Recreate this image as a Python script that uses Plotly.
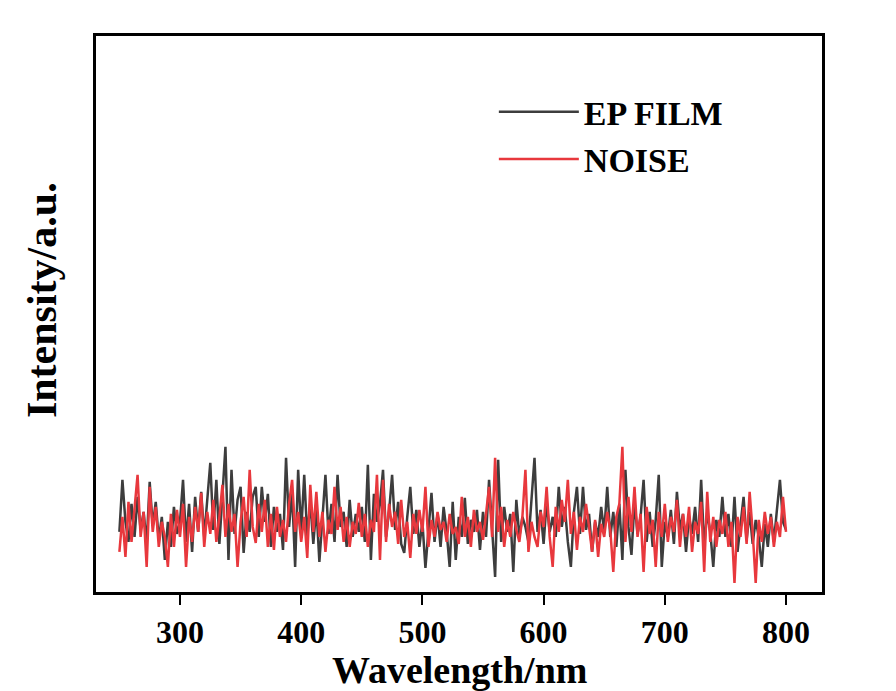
import numpy as np
import plotly.graph_objects as go

# Wavelength grid (nm), 2.5 nm step
wavelength = np.arange(250, 800.01, 2.5)

# EP FILM intensity (a.u.)
ep_film = [
    60, 112, 70, 50, 88, 55, 95, 62, 80, 48, 110, 66, 90, 52, 75, 32, 70, 45, 85, 58,
    70, 112, 50, 88, 40, 95, 60, 100, 55, 90, 129, 62, 112, 48, 100, 145, 32, 122, 58, 92,
    105, 39, 80, 60, 95, 105, 55, 105, 70, 98, 45, 85, 60, 78, 42, 134, 65, 100, 25, 122,
    60, 117, 55, 90, 48, 85, 30, 75, 117, 58, 88, 50, 117, 65, 80, 45, 92, 55, 78, 60,
    85, 50, 127, 32, 98, 70, 88, 122, 55, 80, 117, 62, 90, 48, 39, 75, 105, 58, 82, 45,
    70, 24, 65, 99, 50, 78, 45, 85, 60, 25, 90, 32, 75, 55, 94, 48, 72, 60, 82, 42,
    80, 55, 112, 62, 15, 132, 50, 85, 60, 78, 20, 92, 55, 75, 65, 50, 88, 134, 60, 82,
    48, 90, 60, 75, 55, 105, 65, 85, 50, 25, 80, 105, 58, 105, 62, 78, 40, 70, 55, 85,
    60, 105, 55, 80, 45, 88, 32, 122, 65, 37, 90, 58, 75, 112, 50, 80, 45, 72, 117, 25,
    70, 55, 82, 48, 100, 62, 78, 40, 75, 58, 85, 50, 112, 45, 80, 60, 25, 72, 55, 95,
    55, 78, 45, 95, 40, 70, 95, 52, 80, 48, 72, 55, 25, 68, 45, 78, 50, 82, 112, 70,
    62,
]

# NOISE intensity (a.u.)
noise = [
    40, 75, 35, 90, 50, 85, 117, 55, 80, 25, 105, 60, 85, 45, 70, 55, 25, 78, 45, 82,
    55, 88, 25, 75, 50, 85, 60, 99, 45, 80, 58, 92, 50, 75, 107, 55, 88, 60, 78, 25,
    70, 95, 55, 122, 65, 49, 88, 60, 92, 45, 78, 42, 85, 55, 72, 50, 88, 112, 60, 80,
    50, 75, 34, 107, 60, 100, 55, 80, 40, 72, 58, 105, 62, 85, 50, 75, 45, 70, 58, 89,
    55, 78, 45, 72, 60, 117, 32, 112, 50, 88, 65, 80, 48, 92, 55, 70, 34, 78, 58, 82,
    60, 105, 45, 72, 55, 80, 62, 70, 50, 78, 58, 65, 48, 95, 55, 75, 45, 82, 60, 70,
    52, 78, 105, 55, 134, 60, 85, 45, 72, 55, 80, 62, 50, 75, 122, 40, 70, 55, 45, 80,
    65, 105, 55, 25, 85, 60, 92, 70, 112, 58, 80, 42, 75, 60, 88, 65, 40, 72, 35, 68,
    55, 80, 62, 20, 75, 88, 145, 50, 95, 60, 105, 55, 78, 20, 85, 58, 72, 25, 80, 55,
    88, 50, 75, 60, 92, 45, 78, 55, 85, 40, 70, 58, 90, 20, 100, 50, 75, 45, 72, 58,
    80, 45, 70, 9, 75, 55, 85, 48, 100, 60, 9, 72, 50, 80, 58, 75, 45, 70, 55, 95,
    60,
]

x_ticks = [300, 400, 500, 600, 700, 800]

FONT = "Liberation Serif, Times New Roman, serif"

fig = go.Figure()
fig.add_trace(go.Scatter(x=wavelength, y=ep_film, mode="lines", name="<b>EP FILM</b>",
                         line=dict(color="#3d3d3d", width=2.5)))
fig.add_trace(go.Scatter(x=wavelength, y=noise, mode="lines", name="<b>NOISE</b>",
                         line=dict(color="#e8383d", width=2.5)))

fig.update_layout(
    width=896, height=691,
    margin=dict(l=96, r=74, t=36, b=99, autoexpand=False),
    paper_bgcolor="white", plot_bgcolor="white",
    font=dict(family=FONT, color="black"),
    showlegend=True,
    legend=dict(x=0.548, y=0.915, xanchor="left", yanchor="top",
                font=dict(size=34, family=FONT, color="black"),
                bgcolor="rgba(0,0,0,0)", tracegroupgap=0, itemwidth=80),
    annotations=[
        dict(text="<b>Wavelength/nm</b>", xref="paper", yref="paper",
             x=0.5, y=-0.14, xanchor="center", yanchor="middle", showarrow=False,
             font=dict(size=38, family=FONT, color="black")),
        dict(text="<b>Intensity/a.u.</b>", xref="paper", yref="paper",
             x=-0.0744, y=0.525, xanchor="center", yanchor="middle", showarrow=False,
             textangle=-90, font=dict(size=42, family=FONT, color="black")),
    ],
)
fig.update_xaxes(
    range=[230.7, 829.7], tickvals=x_ticks,
    ticktext=[f"<b>{t}</b>" for t in x_ticks],
    tickfont=dict(size=32, family=FONT, color="black"),
    ticks="outside", ticklen=10, tickwidth=2, tickcolor="black",
    showline=True, linecolor="black", linewidth=3, mirror=True,
    showgrid=False, zeroline=False, automargin=False,
)
fig.update_yaxes(
    range=[0, 555], showticklabels=False, ticks="",
    showline=True, linecolor="black", linewidth=3, mirror=True,
    showgrid=False, zeroline=False, automargin=False,
)

fig.write_html("out.html")
